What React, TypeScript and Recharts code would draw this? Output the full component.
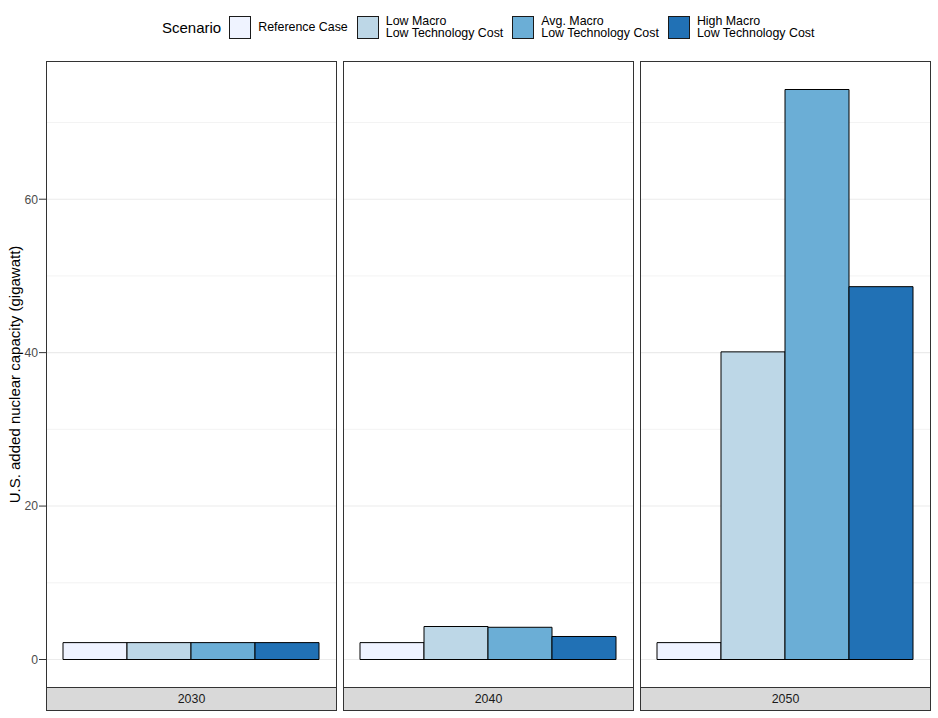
import React from "react";
import { BarChart, Bar, XAxis, YAxis, CartesianGrid } from "recharts";

// values (gigawatt)
const years = ["2030", "2040", "2050"];
const referenceCase = [2.2, 2.2, 2.2];
const lowMacro = [2.2, 4.3, 40.1];
const avgMacro = [2.2, 4.2, 74.3];
const highMacro = [2.2, 3.0, 48.6];

const yTicks = [0, 20, 40, 60];
const minorTicks = [10, 30, 50, 70];

const series = [
  { key: "reference", label: ["Reference Case"], color: "#EFF3FF", values: referenceCase },
  { key: "low", label: ["Low Macro", "Low Technology Cost"], color: "#BDD7E7", values: lowMacro },
  { key: "avg", label: ["Avg. Macro", "Low Technology Cost"], color: "#6BAED6", values: avgMacro },
  { key: "high", label: ["High Macro", "Low Technology Cost"], color: "#2171B5", values: highMacro },
];

const FONT = '"Liberation Sans", Arial, sans-serif';

const allValues = series.flatMap((s) => s.values);
const yMax = Math.max(...allValues);
const pad = yMax * 0.05;
const yDomain: [number, number] = [-pad, yMax + pad];

const PANEL_TOP = 61;
const PANEL_H = 627;
const PANEL_W = 291;
const STRIP_H = 24;
const AXIS_W = 46;
const panelLefts = [46, 343, 640];

const rowFor = (i: number) => {
  const row: Record<string, string | number> = { year: years[i] };
  series.forEach((s) => (row[s.key] = s.values[i]));
  return row;
};

const Panel: React.FC<{ index: number }> = ({ index }) => {
  const withAxis = index === 0;
  const width = withAxis ? AXIS_W + PANEL_W - 1 : PANEL_W - 1;
  const left = withAxis ? panelLefts[0] - AXIS_W : panelLefts[index];
  return (
    <>
      <div style={{ position: "absolute", left, top: PANEL_TOP }}>
        <BarChart
          width={width}
          height={PANEL_H}
          data={[rowFor(index)]}
          margin={{ top: 0, right: 0, bottom: 0, left: 0 }}
          barCategoryGap={17}
          barGap={0}
        >
          <CartesianGrid
            vertical={false}
            horizontalValues={minorTicks}
            stroke="#EBEBEB"
            strokeWidth={0.6}
          />
          <CartesianGrid
            vertical={false}
            horizontalValues={yTicks}
            stroke="#EBEBEB"
            strokeWidth={1.1}
          />
          <XAxis dataKey="year" type="category" hide />
          <YAxis
            hide={!withAxis}
            width={AXIS_W}
            domain={yDomain}
            ticks={yTicks}
            type="number"
            allowDataOverflow
            axisLine={false}
            tickSize={7}
            tickMargin={1}
            tickLine={{ stroke: "#333333" }}
            tick={{ fill: "#4D4D4D", fontSize: 12.2, fontFamily: FONT }}
            label={{
              value: "U.S. added nuclear capacity (gigawatt)",
              angle: -90,
              position: "insideLeft",
              offset: 15,
              style: { textAnchor: "middle", fontSize: 15, fill: "#000", fontFamily: FONT },
            }}
          />
          {series.map((s) => (
            <Bar
              key={s.key}
              dataKey={s.key}
              fill={s.color}
              stroke="#000"
              strokeWidth={1}
              isAnimationActive={false}
            />
          ))}
        </BarChart>
      </div>
      <div
        style={{
          position: "absolute",
          left: panelLefts[index],
          top: PANEL_TOP,
          width: PANEL_W,
          height: PANEL_H,
          boxSizing: "border-box",
          border: "1px solid #333333",
          pointerEvents: "none",
        }}
      />
      <div
        style={{
          position: "absolute",
          left: panelLefts[index],
          top: PANEL_TOP + PANEL_H - 1,
          width: PANEL_W,
          height: STRIP_H,
          boxSizing: "border-box",
          border: "1px solid #333333",
          background: "#D9D9D9",
          color: "#1A1A1A",
          fontSize: 12.4,
          display: "flex",
          alignItems: "center",
          justifyContent: "center",
        }}
      >
        {years[index]}
      </div>
    </>
  );
};

const Legend: React.FC = () => (
  <div
    style={{
      position: "absolute",
      left: 162,
      top: 15,
      height: 24,
      display: "flex",
      alignItems: "center",
    }}
  >
    <span style={{ fontSize: 15, color: "#000", marginRight: 8 }}>Scenario</span>
    {series.map((s) => (
      <div key={s.key} style={{ display: "flex", alignItems: "center", marginRight: 9 }}>
        <div
          style={{
            width: 22,
            height: 23,
            boxSizing: "border-box",
            border: "1px solid #1A1A1A",
            background: s.color,
            marginRight: 7,
          }}
        />
        <div style={{ fontSize: 12.4, lineHeight: "12.5px", color: "#000" }}>
          {s.label.map((l) => (
            <div key={l}>{l}</div>
          ))}
        </div>
      </div>
    ))}
  </div>
);

export default function App() {
  return (
    <div
      style={{
        position: "absolute",
        left: 0,
        top: 0,
        width: 938,
        height: 718,
        background: "#fff",
        fontFamily: FONT,
      }}
    >
      <Legend />
      {years.map((y, i) => (
        <Panel key={y} index={i} />
      ))}
    </div>
  );
}
